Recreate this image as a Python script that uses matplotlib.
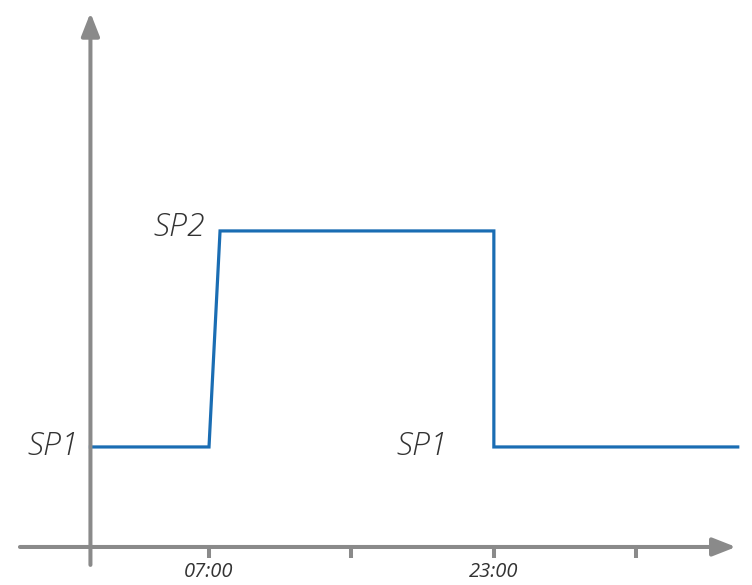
import matplotlib
matplotlib.use("Agg")
import matplotlib.pyplot as plt

# Data (schematic setpoint schedule)
step_hours = [0.34, 7.0, 7.62, 23.0, 23.0, 36.7]
step_levels = [1.0, 1.0, 2.0, 2.0, 1.0, 1.0]
tick_hours = [7, 15, 23, 31]
tick_labels = ["07:00", "", "23:00", ""]
level_labels = ["SP1", "SP2", "SP1"]
label_pos = [(-0.3, 1.0), (6.75, 2.015), (20.4, 1.0)]

AXIS_COLOR = "#8a8a8a"
LINE_COLOR = "#1a6db3"
TEXT_COLOR = "#333333"
FONT = ["Open Sans", "DejaVu Sans"]

fig = plt.figure(figsize=(7.52, 5.85), dpi=100)
ax = fig.add_axes([0, 0, 1, 1])
ax.set_xlim(-4.74, 37.5)
ax.set_ylim(0.361, 3.069)
ax.axis("off")

x_axis_y = 0.537
y_axis_x = 0.34

# axes with arrow heads
arrow_kw = dict(arrowstyle="-|>,head_length=1.4,head_width=0.55", color=AXIS_COLOR,
                lw=2.9, shrinkA=0, shrinkB=0)
ax.annotate("", xy=(y_axis_x, 3.01), xytext=(y_axis_x, 0.454), arrowprops=arrow_kw)
ax.annotate("", xy=(36.6, x_axis_y), xytext=(-3.62, x_axis_y), arrowprops=arrow_kw)

# ticks
ax.vlines(tick_hours, x_axis_y - 0.051, x_axis_y, color=AXIS_COLOR, lw=2.9)
for h, lab in zip(tick_hours, tick_labels):
    if lab:
        ax.text(h, x_axis_y - 0.118, lab, ha="center", va="center", fontsize=14.5,
                style="italic", color=TEXT_COLOR, family=FONT)

# setpoint line
ax.plot(step_hours, step_levels, color=LINE_COLOR, lw=2.3, solid_joinstyle="miter")

for lab, (x, y) in zip(level_labels, label_pos):
    ax.text(x, y, lab, ha="right", va="center", fontsize=23, style="italic",
            fontweight="light", color=TEXT_COLOR, family=FONT)

fig.savefig("out.png", dpi=100)
